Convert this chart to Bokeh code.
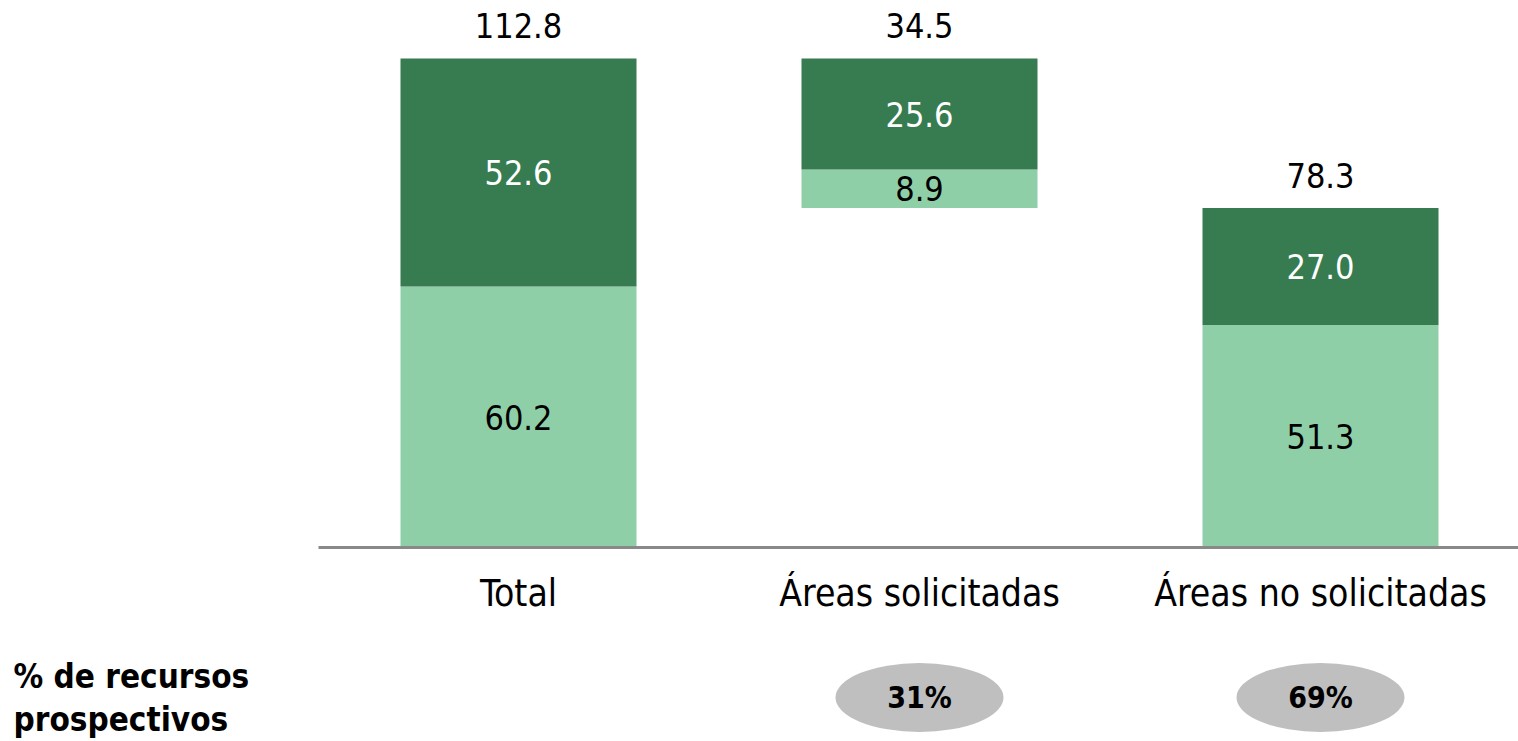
from bokeh.plotting import figure
from bokeh.models import Range1d, FixedTicker
from bokeh.core.properties import value
from bokeh.embed import file_html
from bokeh.resources import INLINE

# ---- data ----
categories = ["Total", "Áreas solicitadas", "Áreas no solicitadas"]
light_vals = [60.2, 8.9, 51.3]
dark_vals = [52.6, 25.6, 27.0]
totals = [112.8, 34.5, 78.3]
share_labels = ["31%", "69%"]
share_title = "% de recursos\nprospectivos"

DARK = "#377B51"
LIGHT = "#8FCFA8"
NUM_FONT = "DejaVu Sans Condensed"

xs = [0.5, 1.5, 2.5]
# waterfall bases: the solicited bar hangs from the total
bases = [0.0, totals[0] - totals[1], 0.0]
light_bottom = bases
light_top = [b + l for b, l in zip(bases, light_vals)]
dark_bottom = light_top
dark_top = [b + d for b, d in zip(dark_bottom, dark_vals)]

W, H = 1518, 741
BASE_PX = 547
px_per_x = 401.0
px_per_y = 4.335
x0 = 0.5 - 518 / px_per_x
x1 = x0 + W / px_per_x
y1 = BASE_PX / px_per_y
y0 = (BASE_PX - H) / px_per_y

p = figure(width=W, height=H, output_backend="svg", toolbar_location=None,
           x_range=Range1d(x0, x1), y_range=Range1d(y0, y1),
           y_axis_location=None, min_border=0, outline_line_color=None)
p.grid.visible = False
p.background_fill_color = "white"

bw = 236 / px_per_x
p.vbar(x=xs, bottom=light_bottom, top=light_top, width=bw, fill_color=LIGHT, line_color=None)
p.vbar(x=xs, bottom=dark_bottom, top=dark_top, width=bw, fill_color=DARK, line_color=None)

# segment labels
p.text(x=xs, y=[(a + b) / 2 for a, b in zip(light_bottom, light_top)],
       text=[f"{v:.1f}" for v in light_vals], text_align="center", text_baseline="middle",
       text_font=value(NUM_FONT), text_font_size="34px", text_color="black")
p.text(x=xs, y=[(a + b) / 2 for a, b in zip(dark_bottom, dark_top)],
       text=[f"{v:.1f}" for v in dark_vals], text_align="center", text_baseline="middle",
       text_font=value(NUM_FONT), text_font_size="34px", text_color="white")
# totals above bars
p.text(x=xs, y=dark_top, text=[f"{v:.1f}" for v in totals], text_align="center",
       text_baseline="middle", y_offset=-33,
       text_font=value(NUM_FONT), text_font_size="34px", text_color="black")

# share ellipses
ey = (BASE_PX - 697) / px_per_y
p.ellipse(x=xs[1:], y=[ey] * 2, width=168 / px_per_x, height=69 / px_per_y,
          fill_color="#BFBFBF", line_color=None)
p.text(x=xs[1:], y=[ey] * 2, text=share_labels, text_align="center", text_baseline="middle",
       text_font=value(NUM_FONT), text_font_size="30px", text_font_style="bold",
       text_color="black")
p.text(x=[x0 + 13 / px_per_x], y=[(BASE_PX - 656) / px_per_y], text=[share_title],
       text_align="left", text_baseline="top", text_line_height=1.12,
       text_font=value(NUM_FONT), text_font_size="33px", text_font_style="bold",
       text_color="black")

# category axis on the baseline
ax = p.xaxis[0]
ax.fixed_location = 0
ax.bounds = (0.5 - 200 / px_per_x, x1)
ax.ticker = FixedTicker(ticks=xs)
ax.major_label_overrides = {x: c for x, c in zip(xs, categories)}
ax.axis_line_color = "#898989"
ax.axis_line_width = 3
ax.major_tick_line_color = None
ax.minor_tick_line_color = None
ax.major_tick_out = 0
ax.major_label_standoff = 24
ax.major_label_text_font = NUM_FONT
ax.major_label_text_font_size = "37px"
ax.major_label_text_color = "black"

open("out.html", "w").write(file_html(p, INLINE))
